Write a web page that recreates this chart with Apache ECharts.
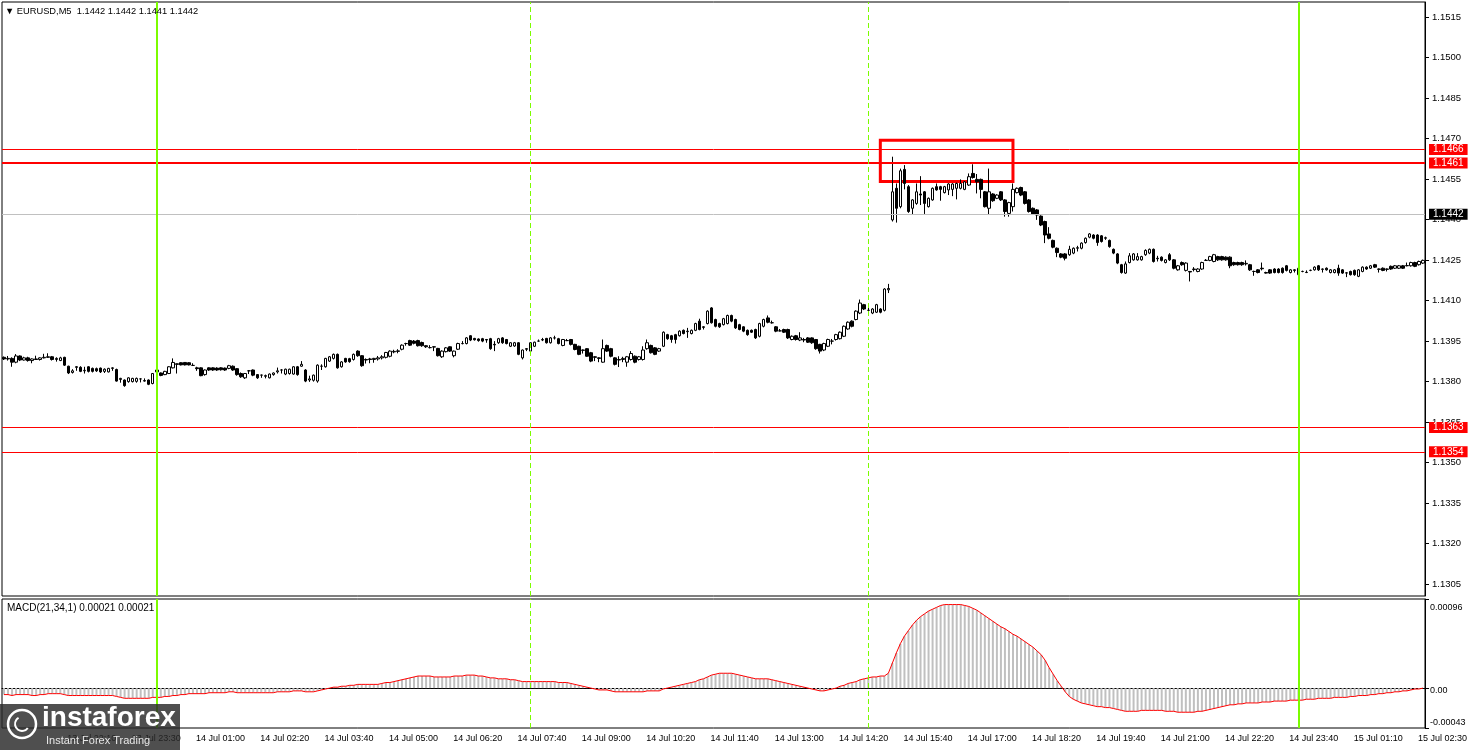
<!DOCTYPE html>
<html>
<head>
<meta charset="utf-8">
<script src="https://cdn.jsdelivr.net/npm/echarts@6/dist/echarts.min.js"></script>
<style>
html, body { margin: 0; padding: 0; background: #fff; }
#chart { width: 1468px; height: 750px; }
</style>
</head>
<body>
<div id="chart"></div>
<script>
var chartDom = document.getElementById('chart');
var myChart = echarts.init(chartDom);
var option;

// EURUSD M5 bars, [open, close, low, high]
var candles = [
  [1.13890,1.13884,1.13880,1.13893],[1.13884,1.13886,1.13878,1.13895],[1.13886,1.13872,1.13855,1.13890],[1.13872,1.13895,1.13868,1.13902],
  [1.13895,1.13880,1.13876,1.13897],[1.13880,1.13888,1.13878,1.13892],[1.13888,1.13878,1.13874,1.13892],[1.13878,1.13884,1.13868,1.13886],
  [1.13884,1.13882,1.13880,1.13896],[1.13882,1.13888,1.13878,1.13890],[1.13888,1.13890,1.13886,1.13903],[1.13890,1.13892,1.13888,1.13905],
  [1.13892,1.13882,1.13878,1.13895],[1.13882,1.13886,1.13874,1.13890],[1.13878,1.13888,1.13876,1.13892],[1.13890,1.13861,1.13858,1.13892],
  [1.13857,1.13832,1.13828,1.13859],[1.13834,1.13840,1.13830,1.13846],[1.13855,1.13853,1.13840,1.13857],[1.13853,1.13838,1.13835,1.13857],
  [1.13840,1.13842,1.13830,1.13855],[1.13855,1.13838,1.13834,1.13857],[1.13849,1.13838,1.13834,1.13852],[1.13848,1.13840,1.13836,1.13852],
  [1.13850,1.13836,1.13832,1.13852],[1.13838,1.13846,1.13832,1.13849],[1.13836,1.13849,1.13834,1.13851],[1.13849,1.13851,1.13840,1.13853],
  [1.13845,1.13802,1.13800,1.13848],[1.13808,1.13812,1.13796,1.13814],[1.13806,1.13785,1.13781,1.13808],[1.13800,1.13814,1.13796,1.13816],
  [1.13800,1.13812,1.13797,1.13814],[1.13801,1.13812,1.13796,1.13815],[1.13810,1.13810,1.13797,1.13812],[1.13802,1.13804,1.13800,1.13812],
  [1.13806,1.13790,1.13787,1.13808],[1.13793,1.13830,1.13790,1.13832],[1.13836,1.13843,1.13834,1.13845],[1.13832,1.13823,1.13820,1.13834],
  [1.13826,1.13838,1.13824,1.13840],[1.13830,1.13855,1.13828,1.13857],[1.13851,1.13871,1.13849,1.13886],[1.13866,1.13864,1.13830,1.13867],
  [1.13870,1.13862,1.13860,1.13872],[1.13871,1.13862,1.13860,1.13872],[1.13870,1.13862,1.13860,1.13872],[1.13860,1.13860,1.13858,1.13868],
  [1.13851,1.13848,1.13840,1.13855],[1.13851,1.13822,1.13820,1.13853],[1.13826,1.13843,1.13822,1.13845],[1.13851,1.13843,1.13840,1.13853],
  [1.13851,1.13843,1.13840,1.13853],[1.13850,1.13843,1.13840,1.13853],[1.13851,1.13844,1.13841,1.13853],[1.13850,1.13843,1.13840,1.13852],
  [1.13849,1.13859,1.13846,1.13862],[1.13857,1.13843,1.13840,1.13860],[1.13848,1.13826,1.13822,1.13850],[1.13830,1.13818,1.13814,1.13834],
  [1.13814,1.13830,1.13810,1.13832],[1.13840,1.13840,1.13828,1.13843],[1.13843,1.13824,1.13820,1.13845],[1.13826,1.13814,1.13810,1.13828],
  [1.13824,1.13824,1.13814,1.13826],[1.13822,1.13820,1.13812,1.13826],[1.13814,1.13828,1.13812,1.13830],[1.13826,1.13832,1.13822,1.13834],
  [1.13836,1.13840,1.13830,1.13852],[1.13843,1.13843,1.13830,1.13846],[1.13828,1.13846,1.13824,1.13848],[1.13830,1.13846,1.13826,1.13848],
  [1.13828,1.13855,1.13826,1.13857],[1.13855,1.13826,1.13822,1.13858],[1.13857,1.13864,1.13855,1.13876],[1.13843,1.13802,1.13798,1.13846],
  [1.13806,1.13810,1.13799,1.13822],[1.13805,1.13824,1.13800,1.13826],[1.13802,1.13861,1.13796,1.13864],[1.13857,1.13857,1.13843,1.13864],
  [1.13855,1.13886,1.13852,1.13888],[1.13876,1.13892,1.13873,1.13895],[1.13886,1.13901,1.13882,1.13904],[1.13901,1.13851,1.13848,1.13904],
  [1.13855,1.13873,1.13852,1.13876],[1.13886,1.13873,1.13870,1.13888],[1.13885,1.13874,1.13870,1.13888],[1.13882,1.13901,1.13878,1.13904],
  [1.13913,1.13896,1.13892,1.13916],[1.13896,1.13859,1.13855,1.13898],[1.13882,1.13880,1.13867,1.13886],[1.13884,1.13882,1.13868,1.13888],
  [1.13882,1.13886,1.13870,1.13888],[1.13884,1.13888,1.13878,1.13895],[1.13888,1.13892,1.13882,1.13898],[1.13890,1.13908,1.13886,1.13910],
  [1.13894,1.13913,1.13890,1.13916],[1.13910,1.13912,1.13905,1.13918],[1.13912,1.13914,1.13905,1.13920],[1.13920,1.13935,1.13916,1.13938],
  [1.13941,1.13941,1.13933,1.13944],[1.13952,1.13935,1.13932,1.13955],[1.13950,1.13942,1.13938,1.13954],[1.13952,1.13933,1.13930,1.13955],
  [1.13945,1.13933,1.13929,1.13948],[1.13933,1.13929,1.13925,1.13935],[1.13926,1.13926,1.13923,1.13935],[1.13929,1.13928,1.13913,1.13931],
  [1.13923,1.13896,1.13893,1.13925],[1.13892,1.13913,1.13888,1.13916],[1.13911,1.13925,1.13908,1.13928],[1.13929,1.13913,1.13910,1.13931],
  [1.13896,1.13913,1.13890,1.13915],[1.13920,1.13941,1.13917,1.13944],[1.13941,1.13941,1.13938,1.13950],[1.13941,1.13962,1.13938,1.13965],
  [1.13970,1.13954,1.13950,1.13972],[1.13960,1.13955,1.13952,1.13962],[1.13958,1.13952,1.13948,1.13960],[1.13959,1.13950,1.13946,1.13962],
  [1.13956,1.13954,1.13944,1.13958],[1.13959,1.13922,1.13918,1.13962],[1.13938,1.13936,1.13913,1.13950],[1.13944,1.13959,1.13940,1.13962],
  [1.13962,1.13944,1.13940,1.13965],[1.13956,1.13941,1.13938,1.13958],[1.13931,1.13944,1.13928,1.13946],[1.13932,1.13944,1.13929,1.13947],
  [1.13944,1.13901,1.13898,1.13946],[1.13888,1.13917,1.13882,1.13919],[1.13922,1.13920,1.13913,1.13924],[1.13913,1.13944,1.13910,1.13946],
  [1.13931,1.13946,1.13928,1.13948],[1.13950,1.13950,1.13948,1.13956],[1.13954,1.13956,1.13950,1.13962],[1.13960,1.13944,1.13941,1.13962],
  [1.13944,1.13962,1.13941,1.13965],[1.13962,1.13962,1.13956,1.13970],[1.13959,1.13941,1.13938,1.13962],[1.13934,1.13956,1.13931,1.13958],
  [1.13952,1.13952,1.13950,1.13958],[1.13956,1.13938,1.13934,1.13958],[1.13938,1.13919,1.13916,1.13940],[1.13931,1.13901,1.13898,1.13933],
  [1.13917,1.13916,1.13904,1.13919],[1.13922,1.13894,1.13892,1.13924],[1.13907,1.13876,1.13872,1.13910],[1.13892,1.13890,1.13876,1.13894],
  [1.13888,1.13886,1.13872,1.13890],[1.13872,1.13922,1.13870,1.13956],[1.13934,1.13913,1.13910,1.13937],[1.13922,1.13894,1.13890,1.13925],
  [1.13888,1.13864,1.13860,1.13890],[1.13880,1.13882,1.13854,1.13894],[1.13882,1.13886,1.13872,1.13892],[1.13872,1.13892,1.13855,1.13895],
  [1.13882,1.13904,1.13878,1.13913],[1.13894,1.13872,1.13868,1.13897],[1.13882,1.13892,1.13878,1.13895],[1.13882,1.13917,1.13878,1.13931],
  [1.13922,1.13944,1.13918,1.13956],[1.13934,1.13907,1.13904,1.13937],[1.13925,1.13901,1.13898,1.13928],[1.13913,1.13922,1.13910,1.13925],
  [1.13931,1.13983,1.13928,1.13986],[1.13974,1.13959,1.13955,1.13977],[1.13970,1.13956,1.13944,1.13973],[1.13974,1.13956,1.13941,1.13977],
  [1.13970,1.13987,1.13967,1.13990],[1.13990,1.13978,1.13975,1.13993],[1.13985,1.13987,1.13962,1.13999],[1.13978,1.13990,1.13975,1.13993],
  [1.13990,1.14015,1.13987,1.14018],[1.14024,1.13993,1.13990,1.14033],[1.14003,1.14001,1.13993,1.14005],[1.14015,1.14061,1.14012,1.14064],
  [1.14073,1.14018,1.14015,1.14076],[1.14030,1.14005,1.14001,1.14033],[1.14015,1.14003,1.13999,1.14018],[1.14011,1.14033,1.14008,1.14036],
  [1.14015,1.14045,1.14012,1.14048],[1.14045,1.14024,1.14020,1.14048],[1.14030,1.13999,1.13995,1.14033],[1.14011,1.13993,1.13990,1.14014],
  [1.14003,1.13987,1.13983,1.14005],[1.13990,1.13974,1.13970,1.13993],[1.13990,1.13983,1.13980,1.13993],[1.13993,1.13962,1.13958,1.13996],
  [1.13968,1.14015,1.13964,1.14018],[1.14005,1.14030,1.14001,1.14033],[1.14036,1.14020,1.14016,1.14045],[1.14018,1.14018,1.14015,1.14026],
  [1.14003,1.13987,1.13983,1.14006],[1.13988,1.13988,1.13986,1.13995],[1.13993,1.13983,1.13980,1.13996],[1.13993,1.13962,1.13958,1.13996],
  [1.13956,1.13968,1.13953,1.13971],[1.13970,1.13956,1.13952,1.13973],[1.13954,1.13962,1.13950,1.13983],[1.13956,1.13954,1.13946,1.13962],
  [1.13962,1.13946,1.13943,1.13965],[1.13962,1.13944,1.13940,1.13964],[1.13956,1.13922,1.13918,1.13958],[1.13938,1.13913,1.13904,1.13940],
  [1.13917,1.13941,1.13913,1.13944],[1.13931,1.13956,1.13928,1.13959],[1.13950,1.13950,1.13938,1.13958],[1.13956,1.13974,1.13952,1.13977],
  [1.13959,1.13983,1.13956,1.13986],[1.13968,1.14005,1.13965,1.14008],[1.13995,1.14020,1.13992,1.14023],[1.14024,1.14005,1.14001,1.14027],
  [1.14030,1.14061,1.14027,1.14064],[1.14054,1.14091,1.14050,1.14104],[1.14085,1.14069,1.14065,1.14088],[1.14064,1.14064,1.14061,1.14073],
  [1.14054,1.14069,1.14050,1.14072],[1.14057,1.14085,1.14054,1.14088],[1.14069,1.14057,1.14053,1.14072],[1.14064,1.14143,1.14060,1.14146],
  [1.14140,1.14145,1.14128,1.14162],
  [1.14399,1.14503,1.14393,1.14633],[1.14516,1.14442,1.14389,1.14534],[1.14448,1.14581,1.14442,1.14589],[1.14586,1.14534,1.14512,1.14602],
  [1.14522,1.14430,1.14425,1.14528],[1.14442,1.14473,1.14420,1.14476],[1.14460,1.14503,1.14455,1.14534],[1.14495,1.14491,1.14454,1.14561],
  [1.14503,1.14460,1.14421,1.14506],[1.14448,1.14479,1.14445,1.14482],[1.14473,1.14516,1.14470,1.14519],[1.14522,1.14510,1.14507,1.14534],
  [1.14522,1.14512,1.14470,1.14525],[1.14500,1.14522,1.14497,1.14525],[1.14510,1.14532,1.14491,1.14535],[1.14512,1.14532,1.14487,1.14535],
  [1.14516,1.14534,1.14475,1.14537],[1.14516,1.14534,1.14512,1.14549],[1.14512,1.14540,1.14509,1.14543],[1.14528,1.14559,1.14525,1.14571],
  [1.14571,1.14556,1.14552,1.14605],[1.14549,1.14540,1.14497,1.14569],[1.14549,1.14512,1.14479,1.14552],[1.14503,1.14448,1.14445,1.14506],
  [1.14442,1.14503,1.14417,1.14589],[1.14495,1.14470,1.14466,1.14498],[1.14479,1.14491,1.14476,1.14494],[1.14503,1.14473,1.14469,1.14506],
  [1.14473,1.14430,1.14411,1.14476],[1.14423,1.14463,1.14411,1.14466],[1.14448,1.14512,1.14430,1.14534],[1.14500,1.14516,1.14497,1.14519],
  [1.14519,1.14491,1.14487,1.14522],[1.14503,1.14460,1.14456,1.14506],[1.14473,1.14430,1.14426,1.14476],[1.14442,1.14421,1.14417,1.14445],
  [1.14436,1.14417,1.14399,1.14439],[1.14413,1.14380,1.14376,1.14416],[1.14393,1.14343,1.14313,1.14396],[1.14347,1.14331,1.14327,1.14372],
  [1.14323,1.14298,1.14294,1.14326],[1.14294,1.14278,1.14261,1.14297],[1.14273,1.14261,1.14257,1.14276],[1.14273,1.14257,1.14249,1.14276],
  [1.14270,1.14290,1.14266,1.14303],[1.14276,1.14294,1.14272,1.14297],[1.14294,1.14296,1.14282,1.14303],[1.14294,1.14313,1.14290,1.14316],
  [1.14315,1.14331,1.14311,1.14334],[1.14335,1.14347,1.14331,1.14350],[1.14343,1.14331,1.14327,1.14346],[1.14343,1.14315,1.14303,1.14346],
  [1.14340,1.14319,1.14315,1.14343],[1.14331,1.14333,1.14325,1.14337],[1.14323,1.14300,1.14296,1.14326],[1.14290,1.14276,1.14272,1.14293],
  [1.14273,1.14239,1.14235,1.14276],[1.14233,1.14204,1.14200,1.14236],[1.14202,1.14236,1.14199,1.14245],[1.14241,1.14266,1.14238,1.14276],
  [1.14251,1.14273,1.14248,1.14276],[1.14251,1.14263,1.14248,1.14276],[1.14251,1.14263,1.14248,1.14266],[1.14270,1.14286,1.14266,1.14290],
  [1.14276,1.14290,1.14272,1.14293],[1.14290,1.14245,1.14241,1.14293],[1.14257,1.14255,1.14245,1.14266],[1.14261,1.14249,1.14245,1.14264],
  [1.14241,1.14251,1.14238,1.14254],[1.14270,1.14251,1.14247,1.14276],[1.14251,1.14220,1.14216,1.14254],[1.14214,1.14229,1.14211,1.14232],
  [1.14241,1.14233,1.14229,1.14245],[1.14212,1.14239,1.14208,1.14242],[1.14208,1.14206,1.14171,1.14209],[1.14215,1.14217,1.14208,1.14224],
  [1.14208,1.14217,1.14205,1.14220],[1.14217,1.14241,1.14214,1.14244],[1.14249,1.14249,1.14247,1.14254],[1.14249,1.14263,1.14246,1.14266],
  [1.14245,1.14270,1.14242,1.14273],[1.14263,1.14251,1.14247,1.14266],[1.14263,1.14251,1.14248,1.14266],[1.14261,1.14251,1.14248,1.14264],
  [1.14261,1.14229,1.14220,1.14264],[1.14241,1.14233,1.14229,1.14244],[1.14241,1.14233,1.14230,1.14244],[1.14241,1.14233,1.14229,1.14244],
  [1.14236,1.14238,1.14230,1.14249],[1.14233,1.14214,1.14210,1.14236],[1.14208,1.14208,1.14192,1.14211],[1.14214,1.14204,1.14201,1.14217],
  [1.14220,1.14218,1.14212,1.14241],[1.14204,1.14202,1.14200,1.14207],[1.14214,1.14202,1.14199,1.14217],[1.14217,1.14204,1.14201,1.14220],
  [1.14217,1.14204,1.14201,1.14220],[1.14220,1.14204,1.14200,1.14223],[1.14229,1.14212,1.14208,1.14232],[1.14204,1.14214,1.14201,1.14217],
  [1.14214,1.14212,1.14204,1.14216],[1.14196,1.14220,1.14193,1.14223],[1.14208,1.14208,1.14205,1.14211],[1.14205,1.14204,1.14202,1.14212],
  [1.14212,1.14212,1.14209,1.14215],[1.14214,1.14224,1.14211,1.14227],[1.14229,1.14214,1.14210,1.14232],[1.14217,1.14216,1.14204,1.14219],
  [1.14220,1.14214,1.14211,1.14223],[1.14204,1.14214,1.14201,1.14217],[1.14204,1.14214,1.14201,1.14217],[1.14220,1.14202,1.14192,1.14233],
  [1.14214,1.14202,1.14199,1.14217],[1.14202,1.14203,1.14187,1.14206],[1.14208,1.14196,1.14193,1.14211],[1.14212,1.14196,1.14192,1.14215],
  [1.14190,1.14214,1.14187,1.14217],[1.14208,1.14224,1.14205,1.14227],[1.14224,1.14217,1.14214,1.14227],[1.14220,1.14229,1.14217,1.14232],
  [1.14233,1.14224,1.14221,1.14236],[1.14217,1.14216,1.14204,1.14219],[1.14220,1.14212,1.14209,1.14223],[1.14217,1.14216,1.14208,1.14219],
  [1.14227,1.14217,1.14214,1.14230],[1.14220,1.14229,1.14217,1.14232],[1.14220,1.14229,1.14217,1.14232],[1.14229,1.14220,1.14217,1.14232],
  [1.14229,1.14230,1.14227,1.14241],[1.14229,1.14241,1.14226,1.14244],[1.14241,1.14227,1.14224,1.14244],[1.14233,1.14245,1.14230,1.14248],
  [1.14239,1.14249,1.14236,1.14252]
];

// MACD(21,34,1) main value per bar (signal with period 1 is the same curve)
var macd = [
  -0.00007,-0.00007,-0.00008,-0.00007,-0.00007,-0.00007,-0.00007,-0.00008,-0.00008,-0.00007,
  -0.00007,-0.00006,-0.00006,-0.00006,-0.00006,-0.00007,-0.00008,-0.00008,-0.00008,-0.00008,
  -0.00008,-0.00008,-0.00008,-0.00008,-0.00008,-0.00008,-0.00008,-0.00008,-0.00009,-0.0001,
  -0.00011,-0.00011,-0.00011,-0.00011,-0.00011,-0.00011,-0.00011,-0.0001,
  -0.0001,-0.0001,-0.00009,-0.00009,-0.00008,-0.00008,-0.00007,-0.00007,-0.00006,-0.00006,
  -0.00006,-0.00006,-0.00006,-0.00005,-0.00005,-0.00005,-0.00005,-0.00005,-0.00004,-0.00004,
  -0.00005,-0.00005,-0.00005,-0.00005,-0.00005,-0.00005,-0.00005,-0.00005,-0.00005,-0.00005,
  -0.00004,-0.00004,-0.00004,-0.00004,-0.00003,-0.00003,-0.00003,-0.00004,-0.00004,-0.00004,
  -0.00003,-0.00002,-0.00001,0,
  0.00001,0.00001,0.00002,0.00002,0.00003,0.00003,0.00004,0.00004,0.00004,0.00004,
  0.00004,0.00004,0.00005,0.00006,0.00006,0.00007,0.00008,0.00009,0.0001,
  0.00011,0.00012,0.00013,0.00013,0.00013,0.00013,0.00012,0.00012,0.00012,0.00012,0.00012,0.00013,
  0.00013,0.00013,0.00014,0.00014,0.00014,0.00013,0.00013,0.00012,0.00011,0.00011,0.0001,0.0001,0.0001,0.00009,0.00009,0.00008,0.00007,
  0.00007,0.00007,0.00007,0.00007,0.00007,0.00007,0.00007,0.00007,0.00006,0.00006,0.00006,0.00005,0.00004,0.00003,
  0.00002,0.00001,0,-0.00001,-0.00002,-0.00002,-0.00002,-0.00003,-0.00004,-0.00004,
  -0.00004,-0.00004,-0.00004,-0.00004,-0.00004,-0.00004,-0.00003,-0.00003,-0.00003,-0.00003,
  -0.00001,0,0.00001,0.00002,0.00003,0.00004,0.00005,0.00006,0.00007,0.00009,0.0001,0.00012,0.00014,0.00015,0.00016,
  0.00016,0.00016,0.00016,0.00015,0.00014,0.00013,0.00012,0.00011,0.0001,0.0001,0.0001,0.0001,0.00009,0.00008,0.00007,0.00006,0.00005,0.00004,
  0.00003,0.00002,0.00001,0,-0.00001,-0.00002,-0.00003,-0.00003,-0.00002,-0.00001,0,0.00002,0.00003,0.00005,0.00006,0.00007,0.00009,0.0001,
  0.00011,0.00012,0.00012,0.00013,0.00013,0.00016,0.00027,0.00038,0.00048,0.00056,0.00062,0.00068,0.00073,0.00077,0.0008,0.00083,
  0.00085,0.00087,0.00089,0.0009,0.0009,0.0009,0.0009,
  0.0009,0.00089,0.00088,0.00086,0.00084,0.00081,0.00078,0.00075,0.00072,0.00069,0.00066,0.00064,0.00061,0.00058,0.00056,
  0.00053,0.0005,0.00047,0.00044,0.0004,0.00036,0.0003,0.00022,0.00015,0.00008,0.00002,-0.00004,-0.00009,-0.00012,-0.00014,
  -0.00016,-0.00017,-0.00018,-0.00019,-0.0002,-0.0002,-0.00021,-0.00021,-0.00022,-0.00023,-0.00024,-0.00025,-0.00025,
  -0.00025,-0.00025,-0.00024,-0.00024,-0.00024,-0.00024,-0.00024,-0.00024,-0.00025,-0.00025,
  -0.00025,-0.00026,-0.00026,-0.00026,-0.00026,-0.00026,-0.00025,-0.00025,-0.00024,-0.00023,
  -0.00022,-0.00021,-0.0002,-0.00019,-0.00018,-0.00018,-0.00017,-0.00017,-0.00016,-0.00016,-0.00016,
  -0.00016,-0.00015,-0.00015,-0.00015,-0.00014,-0.00014,-0.00014,-0.00014,-0.00013,-0.00013,-0.00013,
  -0.00013,-0.00012,-0.00012,-0.00012,-0.00011,-0.00011,-0.00011,-0.00011,-0.0001,-0.0001,
  -0.0001,-0.0001,-0.00009,-0.00009,-0.00008,-0.00008,-0.00008,-0.00007,-0.00007,-0.00006,
  -0.00006,-0.00005,-0.00005,-0.00004,-0.00004,-0.00003,-0.00003,-0.00002,-0.00001,-0.00001,0
];

// time axis: one label every 16 bars, starting at bar 15
var timeLabels = ['13 Jul 22:10', '13 Jul 23:30', '14 Jul 01:00', '14 Jul 02:20', '14 Jul 03:40',
  '14 Jul 05:00', '14 Jul 06:20', '14 Jul 07:40', '14 Jul 09:00', '14 Jul 10:20', '14 Jul 11:40',
  '14 Jul 13:00', '14 Jul 14:20', '14 Jul 15:40', '14 Jul 17:00', '14 Jul 18:20', '14 Jul 19:40',
  '14 Jul 21:00', '14 Jul 22:20', '14 Jul 23:40', '15 Jul 01:10', '15 Jul 02:30'];
var firstLabelBar = 15;
var labelStep = 16;

var priceTicks = [1.1305, 1.1320, 1.1335, 1.1350, 1.1365, 1.1380, 1.1395, 1.1410, 1.1425,
  1.1440, 1.1455, 1.1470, 1.1485, 1.1500, 1.1515];
var macdTicks = [-0.00043, 0, 0.00096];

var levelPrices = [1.1466, 1.1461, 1.1363, 1.1354];
var bidPrice = 1.1442;
var dayBars = [38, 322];
var eventBars = [131, 215];
var boxBars = [218, 251];
var boxPrices = [1.14694, 1.14541];

var font = 'Liberation Sans';
var categoryData = [];
for (var i = 0; i < candles.length; i++) {
  categoryData.push(i);
}

function isLabelBar(index) {
  return index >= firstLabelBar && (index - firstLabelBar) % labelStep === 0;
}

var levelLines = levelPrices.map(function (p, k) {
  return {
    yAxis: p,
    lineStyle: { color: '#ff0000', width: k === 1 ? 2 : 1, type: 'solid' },
    label: { formatter: p.toFixed(4), backgroundColor: '#ff0000', color: '#fff' }
  };
});
levelLines.push({
  yAxis: bidPrice,
  lineStyle: { color: '#c0c0c0', width: 1, type: 'solid' },
  label: { formatter: bidPrice.toFixed(4), backgroundColor: '#000', color: '#fff' }
});

function verticalLines() {
  var out = [];
  dayBars.forEach(function (b) {
    out.push({ xAxis: b, lineStyle: { color: '#7cfc00', width: 2, type: 'solid' }, label: { show: false } });
  });
  eventBars.forEach(function (b) {
    out.push({ xAxis: b, lineStyle: { color: '#7cfc00', width: 1, type: [5, 3] }, label: { show: false } });
  });
  return out;
}

option = {
  animation: false,
  backgroundColor: '#fff',
  title: [
    { text: '\u25BC EURUSD,M5  1.1442 1.1442 1.1441 1.1442', left: 5, top: 7, padding: 0,
      textStyle: { fontSize: 9.3, fontWeight: 'normal', color: '#000', fontFamily: font } },
    { text: 'MACD(21,34,1) 0.00021 0.00021', left: 7, top: 603, padding: 0,
      textStyle: { fontSize: 10, fontWeight: 'normal', color: '#000', fontFamily: font } }
  ],
  grid: [
    { left: 2, right: 43, top: 2, height: 594, outerBoundsMode: 'none', containLabel: false,
      show: true, borderColor: '#000', borderWidth: 1, backgroundColor: '#fff' },
    { left: 2, right: 43, top: 599, height: 129, outerBoundsMode: 'none', containLabel: false,
      show: true, borderColor: '#000', borderWidth: 1, backgroundColor: '#fff' }
  ],
  xAxis: [
    { type: 'category', gridIndex: 0, data: categoryData, show: false },
    {
      type: 'category', gridIndex: 1, data: categoryData,
      axisLine: { lineStyle: { color: '#000' } },
      axisTick: { alignWithLabel: true, length: 4, interval: isLabelBar, lineStyle: { color: '#000' } },
      axisLabel: {
        interval: isLabelBar,
        formatter: function (value, index) {
          return timeLabels[(index - firstLabelBar) / labelStep] || '';
        },
        align: 'left', padding: [0, 0, 0, 3], margin: 6,
        fontSize: 9, color: '#000', fontFamily: font
      },
      splitLine: { show: false }
    }
  ],
  yAxis: [
    {
      type: 'value', gridIndex: 0, position: 'right',
      min: 1.13006, max: 1.15206,
      splitLine: { show: false },
      axisLine: { show: true, lineStyle: { color: '#000' } },
      axisTick: { show: true, length: 4, customValues: priceTicks, lineStyle: { color: '#000' } },
      axisLabel: {
        customValues: priceTicks,
        formatter: function (v) { return v.toFixed(4); },
        fontSize: 9.5, color: '#000', fontFamily: font, margin: 7
      }
    },
    {
      type: 'value', gridIndex: 1, position: 'right',
      min: -0.00043, max: 0.00096,
      splitLine: { show: false },
      axisLine: { show: true, lineStyle: { color: '#000' } },
      axisTick: { show: true, length: 4, customValues: macdTicks, lineStyle: { color: '#000' } },
      axisLabel: {
        customValues: macdTicks,
        margin: 5,
        formatter: function (v) {
          if (v > 0) return '{t|' + v.toFixed(5) + '}';
          if (v < 0) return '{b|' + v.toFixed(5) + '}';
          return '{z|0.00}';
        },
        rich: {
          t: { padding: [18, 0, 0, 0], fontSize: 9, color: '#000', fontFamily: font },
          b: { padding: [0, 0, 10, 0], fontSize: 9, color: '#000', fontFamily: font },
          z: { padding: [4, 0, 0, 0], fontSize: 9, color: '#000', fontFamily: font }
        }
      }
    }
  ],
  series: [
    {
      type: 'candlestick',
      xAxisIndex: 0, yAxisIndex: 0,
      data: candles,
      barWidth: 3,
      itemStyle: { color: '#fff', color0: '#000', borderColor: '#000', borderColor0: '#000', borderWidth: 1 },
      z: 2
    },
    {
      type: 'line',
      xAxisIndex: 0, yAxisIndex: 0,
      data: [],
      z: 5,
      markLine: {
        silent: true,
        precision: 5,
        symbol: ['none', 'none'],
        label: { show: true, position: 'end', distance: 4, fontSize: 10, fontFamily: font, padding: [1, 4, 0, 4], lineHeight: 10 },
        data: levelLines.concat(verticalLines())
      },
      markArea: {
        silent: true,
        precision: 5,
        itemStyle: { color: 'rgba(0,0,0,0)', borderColor: '#ff0000', borderWidth: 3 },
        data: [[
          { xAxis: boxBars[0], yAxis: boxPrices[0] },
          { xAxis: boxBars[1], yAxis: boxPrices[1] }
        ]]
      }
    },
    {
      type: 'bar',
      xAxisIndex: 1, yAxisIndex: 1,
      data: macd,
      barWidth: 2,
      itemStyle: { color: '#c0c0c0' },
      markLine: {
        silent: true,
        symbol: ['none', 'none'],
        data: verticalLines()
      }
    },
    {
      type: 'line',
      xAxisIndex: 1, yAxisIndex: 1,
      data: macd,
      symbol: 'none',
      lineStyle: { color: '#ff0000', width: 1 },
      z: 4
    }
  ],
  graphic: [
    {
      type: 'rect', left: 0, top: 704, z: 100,
      shape: { width: 180, height: 46 },
      style: { fill: 'rgba(40,40,40,0.82)' }
    },
    {
      type: 'circle', z: 101,
      shape: { cx: 22, cy: 724, r: 14 },
      style: { fill: 'none', stroke: '#fff', lineWidth: 2.5 }
    },
    {
      type: 'arc', z: 101,
      shape: { cx: 22, cy: 724, r: 7, startAngle: 0.6, endAngle: 4.2 },
      style: { fill: 'none', stroke: '#fff', lineWidth: 2 }
    },
    {
      type: 'text', left: 42, top: 704, z: 101,
      style: { text: 'instaforex', fill: '#fff', font: 'bold 28px "Liberation Sans"' }
    },
    {
      type: 'text', left: 46, top: 735, z: 101,
      style: { text: 'Instant Forex Trading', fill: '#e8e8e8', font: '11px "Liberation Sans"' }
    }
  ]
};

option && myChart.setOption(option);
</script>
</body>
</html>
